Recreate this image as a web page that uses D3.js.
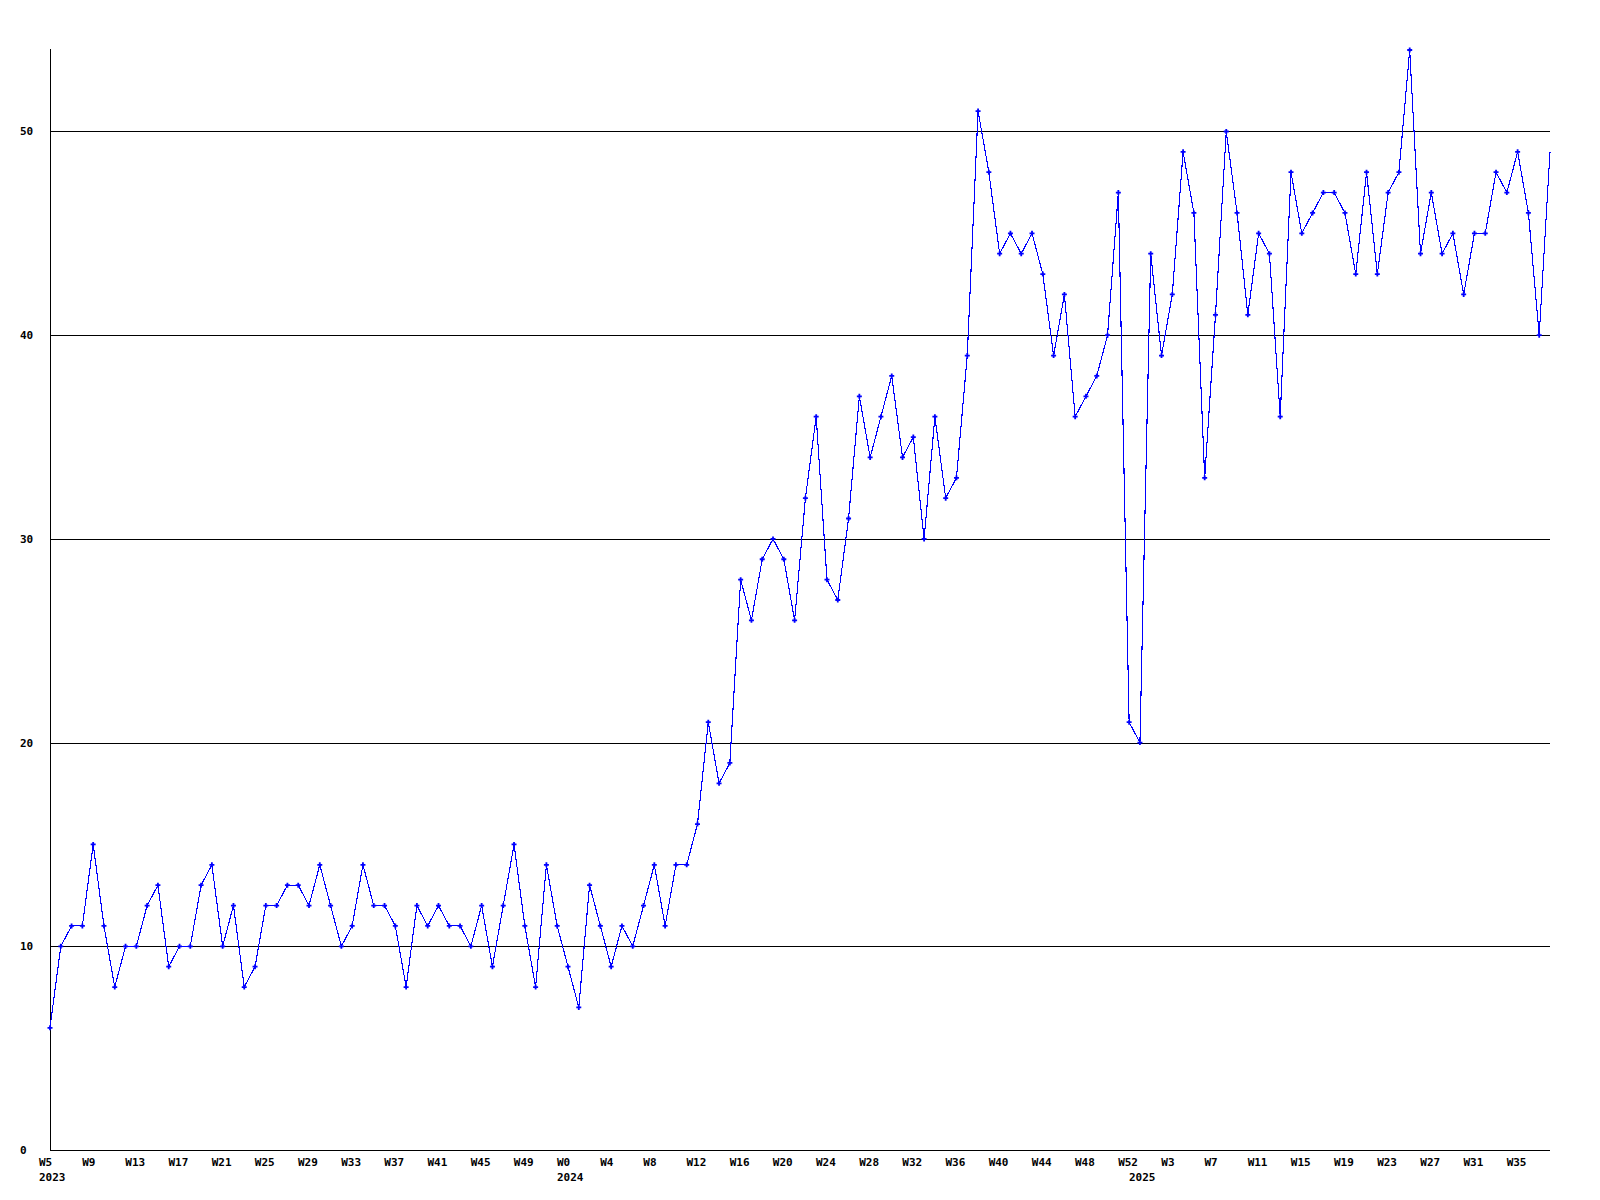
<!DOCTYPE html>
<html>
<head>
<meta charset="utf-8">
<script src="https://cdn.jsdelivr.net/npm/d3@7"></script>
<style>
  body { margin: 0; background: #fff; }
  text { font-family: "DejaVu Sans Mono", monospace; font-weight: bold; font-size: 11px; fill: #000; }
</style>
</head>
<body>
<script>
// weekly counts, one array per year
var years = [2023, 2024, 2025];
var firstWeek = [5, 0, 0];
var values2023 = [6, 10, 11, 11, 15, 11, 8, 10, 10, 12, 13, 9, 10, 10, 13, 14, 10, 12, 8, 9,
  12, 12, 13, 13, 12, 14, 12, 10, 11, 14, 12, 12, 11, 8, 12, 11, 12, 11, 11, 10,
  12, 9, 12, 15, 11, 8, 14, 11];
var values2024 = [9, 7, 13, 11, 9, 11, 10, 12, 14, 11, 14, 14, 16, 21, 18, 19, 28, 26, 29, 30,
  29, 26, 32, 36, 28, 27, 31, 37, 34, 36, 38, 34, 35, 30, 36, 32, 33, 39, 51, 48,
  44, 45, 44, 45, 43, 39, 42, 36, 37, 38, 40, 47, 21];
var values2025 = [20, 44, 39, 42, 49, 46, 33, 41, 50, 46, 41, 45, 44, 36, 48, 45, 46, 47, 47, 46,
  43, 48, 43, 47, 48, 54, 44, 47, 44, 45, 42, 45, 45, 48, 47, 49, 46, 40, 49];
var yTicks = [0, 10, 20, 30, 40, 50];
var labelEvery = 4;

var w = 1600, h = 1200;
var marginLeft = 50, plotRight = 1550, plotBottom = 1150, plotTop = 50;

// flatten into points
var points = [];
[values2023, values2024, values2025].forEach(function(vals, yi) {
  vals.forEach(function(v, j) {
    points.push({year: years[yi], week: firstWeek[yi] + j, value: v, first: j === 0});
  });
});

var svg = d3.select("body").append("svg")
  .attr("width", w)
  .attr("height", h);

var x = d3.scaleLinear()
  .domain([0, points.length - 1])
  .range([marginLeft, plotRight]);

var y = d3.scaleLinear()
  .domain([0, d3.max(points, function(d) { return d.value; })])
  .range([plotBottom, plotTop]);

// horizontal grid lines
svg.append("g").selectAll("line")
  .data(yTicks.filter(function(t) { return t > 0; }))
  .enter().append("line")
  .attr("x1", marginLeft).attr("x2", plotRight)
  .attr("y1", function(d) { return Math.round(y(d)) + 0.5; })
  .attr("y2", function(d) { return Math.round(y(d)) + 0.5; })
  .attr("stroke", "#000")
  .attr("shape-rendering", "crispEdges");

// axes lines
svg.append("line")
  .attr("x1", marginLeft + 0.5).attr("x2", marginLeft + 0.5)
  .attr("y1", plotTop - 1).attr("y2", plotBottom + 0.5)
  .attr("stroke", "#000").attr("shape-rendering", "crispEdges");
svg.append("line")
  .attr("x1", marginLeft).attr("x2", plotRight)
  .attr("y1", plotBottom + 0.5).attr("y2", plotBottom + 0.5)
  .attr("stroke", "#000").attr("shape-rendering", "crispEdges");

// y labels
svg.append("g").selectAll("text")
  .data(yTicks)
  .enter().append("text")
  .attr("x", 20)
  .attr("y", function(d) { return y(d) + 4; })
  .text(function(d) { return d; });

// week labels + year labels
svg.append("g").selectAll("text")
  .data(points.filter(function(d, i) { return i % labelEvery === 0; }))
  .enter().append("text")
  .attr("x", function(d) { return x(points.indexOf(d)) - 11; })
  .attr("y", 1166)
  .text(function(d) { return "W" + d.week; });

svg.append("g").selectAll("text")
  .data(points.filter(function(d) { return d.first; }))
  .enter().append("text")
  .attr("x", function(d) { return x(points.indexOf(d)) - 11; })
  .attr("y", 1181)
  .text(function(d) { return d.year; });

// the series line
var line = d3.line()
  .x(function(d, i) { return x(i); })
  .y(function(d) { return y(d.value); });

svg.append("path")
  .datum(points)
  .attr("d", line)
  .attr("fill", "none")
  .attr("stroke", "#0000ff")
  .attr("stroke-width", 1.1)
  .attr("shape-rendering", "crispEdges");

// point markers (last, still running week has none)
svg.append("g").selectAll("path")
  .data(points.slice(0, -1))
  .enter().append("path")
  .attr("transform", function(d, i) { return "translate(" + x(i) + "," + y(d.value) + ")"; })
  .attr("d", "M-2.5,0H2.5M0,-2.5V2.5")
  .attr("stroke", "#0000ff")
  .attr("stroke-width", 1.8);
</script>
</body>
</html>
